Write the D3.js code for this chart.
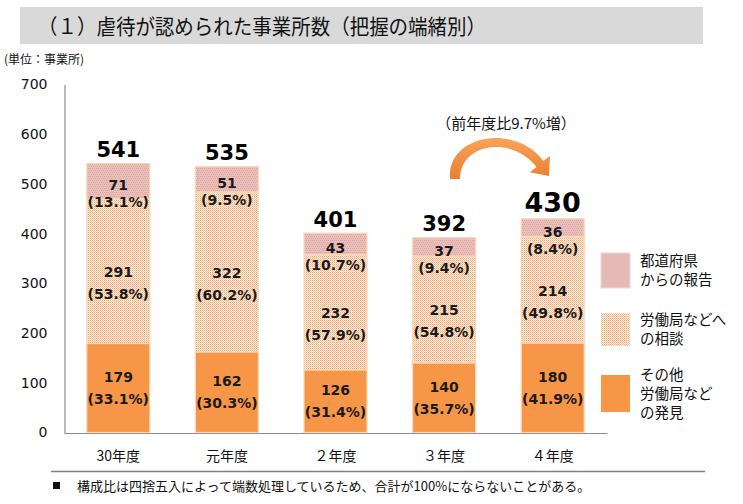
<!DOCTYPE html>
<html><head><meta charset="utf-8">
<script src="https://cdn.jsdelivr.net/npm/d3@7/dist/d3.min.js"></script>
<style>body{margin:0;background:#fff}svg{display:block}</style>
</head><body>
<script>
const categories = ["30年度","元年度","２年度","３年度","４年度"];
const report = [71,51,43,37,36];
const reportPct = ["13.1%","9.5%","10.7%","9.4%","8.4%"];
const consult = [291,322,232,215,214];
const consultPct = ["53.8%","60.2%","57.9%","54.8%","49.8%"];
const discover = [179,162,126,140,180];
const discoverPct = ["33.1%","30.3%","31.4%","35.7%","41.9%"];
const totals = [541,535,401,392,430];
const yTicks = [0,100,200,300,400,500,600,700];
const legendLabels = [["都道府県","からの報告"],["労働局などへ","の相談"],["その他","労働局など","の発見"]];
const title = "（１）虐待が認められた事業所数（把握の端緒別）";
const unitLabel = "(単位：事業所)";
const growthLabel = "（前年度比9.7%増）";
const footnote = "構成比は四捨五入によって端数処理しているため、合計が100%にならないことがある。";

const W = 743, H = 504;
const JP = "'Noto Sans CJK JP','Noto Sans',sans-serif";
const NUM = "'DejaVu Sans',Verdana,sans-serif";
const svg = d3.select("body").append("svg").attr("width", W).attr("height", H);
const defs = svg.append("defs");

// patterns
const pc = defs.append("pattern").attr("id","pConsult").attr("patternUnits","userSpaceOnUse").attr("width",4).attr("height",4);
pc.append("rect").attr("width",4).attr("height",4).attr("fill","#FDEBDC");
[[0,0],[2,0],[1,1],[3,1],[0,2],[2,2],[1,3],[3,3]].forEach(([x,y])=>{
  pc.append("rect").attr("x",x).attr("y",y).attr("width",1).attr("height",1).attr("fill", (y%2==0)?"#F3AA74":"#F8C9A3");
});
const pr = defs.append("pattern").attr("id","pReport").attr("patternUnits","userSpaceOnUse").attr("width",4).attr("height",4);
pr.append("rect").attr("width",4).attr("height",4).attr("fill","#EAC0BC");
[[0,0],[2,0],[1,2],[3,2]].forEach(([x,y])=>{
  pr.append("rect").attr("x",x).attr("y",y).attr("width",1).attr("height",1).attr("fill","#DDA49D");
});
const grad = defs.append("linearGradient").attr("id","arrowGrad").attr("x1",0).attr("y1",0).attr("x2",0).attr("y2",1);
grad.append("stop").attr("offset","0%").attr("stop-color","#F9A25C");
grad.append("stop").attr("offset","100%").attr("stop-color","#E9802E");

// title
svg.append("rect").attr("x",20).attr("y",7).attr("width",683).attr("height",37).attr("fill","#D9D9D9");
svg.append("text").attr("x",38).attr("y",34).attr("font-family",JP).attr("font-size",21)
  .attr("textLength",448).attr("lengthAdjust","spacingAndGlyphs").attr("fill","#111").text(title);
svg.append("text").attr("x",4).attr("y",64).attr("font-family",JP).attr("font-size",12).attr("fill","#111").text(unitLabel);

// scales
const x = d3.scaleBand().domain(categories).range([64,607]).paddingInner(0.42).paddingOuter(0.21);
const y = d3.scaleLinear().domain([0,700]).range([432.5,84.5]);

// axes
const yAxis = svg.append("g").attr("transform","translate(64.5,0)")
  .call(d3.axisLeft(y).tickValues(yTicks).tickSize(0).tickPadding(17));
yAxis.select(".domain").attr("stroke","#8C8C8C").attr("stroke-width",1.2);
yAxis.selectAll("text").attr("font-family",NUM).attr("font-size",14).attr("fill","#111");

const xAxis = svg.append("g").attr("transform","translate(0,433)")
  .call(d3.axisBottom(x).tickSize(0).tickPadding(18));
xAxis.select(".domain").attr("stroke","#8C8C8C").attr("stroke-width",1.2);
xAxis.selectAll("text").attr("font-family",JP).attr("font-size",14).attr("fill","#111");

// stacks
const series = [
  {vals: discover, pct: discoverPct, fill: "#F79646"},
  {vals: consult, pct: consultPct, fill: "url(#pConsult)"},
  {vals: report, pct: reportPct, fill: "url(#pReport)"}
];
const g = svg.append("g");
categories.forEach((c,i)=>{
  let base = 0;
  series.forEach((s,k)=>{
    const v = s.vals[i];
    const y0 = y(base), y1 = y(base+v);
    g.append("rect").attr("x",x(c)).attr("y",y1).attr("width",x.bandwidth()).attr("height",y0-y1)
      .attr("fill",s.fill).attr("stroke","#FBD7B8").attr("stroke-width",1.2);
    const cx = x(c)+x.bandwidth()/2, cy = (y0+y1)/2;
    let ny, py;
    if (k===0){ ny = cy-11; py = cy+11; }
    else if (k===1){ ny = cy+1; py = cy+23; }
    else { ny = cy+4; py = cy+21; }
    g.append("text").attr("x",cx).attr("y",ny).attr("dy","0.36em").attr("text-anchor","middle")
      .attr("font-family",NUM).attr("font-weight","bold").attr("font-size",14).attr("fill","#1a1a1a").text(v);
    g.append("text").attr("x",cx).attr("y",py).attr("dy","0.36em").attr("text-anchor","middle")
      .attr("font-family",NUM).attr("font-weight","bold").attr("font-size",14).attr("fill","#1a1a1a").text("("+s.pct[i]+")");
    base += v;
  });
  const last = i===categories.length-1;
  g.append("text").attr("x",x(c)+x.bandwidth()/2).attr("y",y(totals[i])-(last?16:14)).attr("dy","0.36em")
    .attr("text-anchor","middle").attr("font-family",NUM).attr("font-weight","bold")
    .attr("font-size",last?27:21).attr("fill","#000").text(totals[i]);
});

// arrow
svg.append("path")
  .attr("d","M450,179 C446,136 514,122 543.5,161 L550,155.7 L549,176 L530,172.3 L536.5,167 C512,135 460,143 460,179 Z")
  .attr("fill","url(#arrowGrad)");
svg.append("text").attr("x",506).attr("y",124).attr("dy","0.36em").attr("text-anchor","middle")
  .attr("font-family",JP).attr("font-size",15).attr("fill","#111").text(growthLabel);

// legend
const legFills = ["#E5B9B7","url(#pConsult)","#F79646"];
const legY = [253,313,375], legH = [35,33,37];
legendLabels.forEach((lines,i)=>{
  svg.append("rect").attr("x",601).attr("y",legY[i]).attr("width",29).attr("height",legH[i])
    .attr("fill",legFills[i]).attr("stroke", i===0?"#EDD8D3":"none");
  const n = lines.length;
  const mid = legY[i]+legH[i]/2;
  lines.forEach((t,j)=>{
    svg.append("text").attr("x",640).attr("y",mid+(j-(n-1)/2)*19).attr("dy","0.36em")
      .attr("font-family",JP).attr("font-size",14.5).attr("fill","#111").text(t);
  });
});

// divider + footnote
svg.append("line").attr("x1",51).attr("x2",705).attr("y1",471.5).attr("y2",471.5).attr("stroke","#7F7F7F").attr("stroke-width",1.5);
svg.append("rect").attr("x",53).attr("y",482).attr("width",7).attr("height",7).attr("fill","#111");
svg.append("text").attr("x",77).attr("y",486).attr("dy","0.36em").attr("font-family",JP).attr("font-size",13).attr("fill","#111").text(footnote);
</script>
</body></html>
